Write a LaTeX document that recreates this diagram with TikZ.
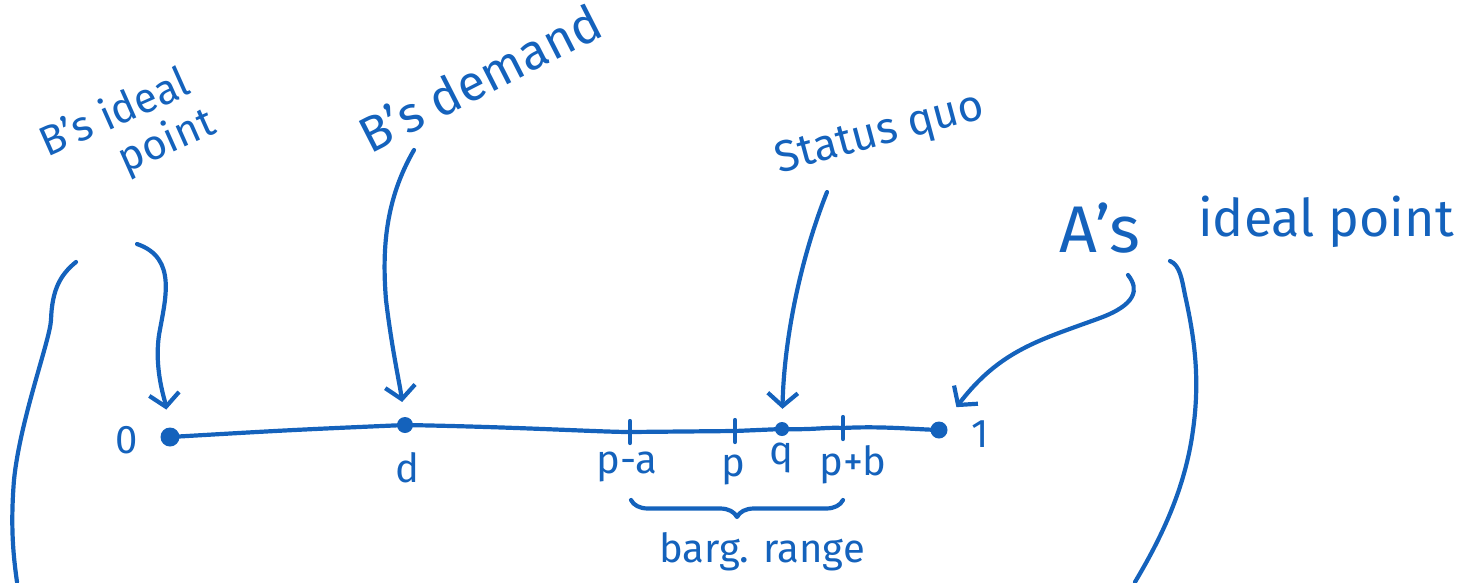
\documentclass[tikz,border=0pt]{standalone}
\usepackage{fontspec}
\setmainfont{Fira Sans}
\usetikzlibrary{arrows.meta,decorations.pathreplacing}
\definecolor{ink}{RGB}{20,98,188}
\begin{document}
\begin{tikzpicture}[x=1pt,y=-1pt,
  pen/.style={draw=ink, line width=4.2pt, line cap=round, line join=round},
  arrowpen/.style={pen, -{Straight Barb[length=13pt,width=30pt]}},
  dot/.style={circle, fill=ink, inner sep=0pt, minimum size=#1},
  lbl/.style={text=ink, inner sep=0pt, font=\fontsize{#1}{#1}\selectfont},
  lbl/.default=40]
\useasboundingbox (0,0) rectangle (1483,582);

% points on the line
\node[dot=19pt] (z) at (170,437) {};
\node[dot=16pt] (d) at (405,425) {};
\node[dot=14pt] (q) at (782,429) {};
\node[dot=17pt] (o) at (939,430) {};
\coordinate (ta) at (630,432);
\coordinate (tp) at (735,431);
\coordinate (tb) at (843,428);

% the line from 0 to 1
\draw[pen] (z.center) .. controls (290,430) .. (d.center)
  .. controls (520,427) and (600,432) .. (ta) -- (tp) -- (q.center)
  .. controls (815,430) and (825,427) .. (tb)
  .. controls (880,426) and (910,429) .. (o.center);

% ticks
\foreach \t in {ta,tp,tb}
  \draw[pen] ([yshift=11pt]\t) -- ([yshift=-11pt]\t);

% labels on the line
\node[lbl] (l0) at (127,440) {0};
\node[lbl] (ld) at (407,468) {d};
\node[lbl] (lpa) at (627,467) {p-a};
\node[lbl] (lp) at (733,470) {p};
\node[lbl] (lq) at (781,458) {q};
\node[lbl] (lpb) at (853,465) {p+b};
\node[lbl] (l1) at (980,434) {1};

% bargaining range
\coordinate (ba) at (631,500);
\coordinate (bb) at (843,500);
\draw[pen, decorate, decoration={brace, mirror, amplitude=17pt}] (ba) -- (bb);
\node[lbl=40] (range) at (762,552) {barg. range};

% headings
\node[lbl=42, rotate=24, align=left, font=\fontsize{42}{46}\selectfont]
  (bi) at (128,134) {B's ideal\\\phantom{B's }point};
\node[lbl=50, rotate=27] (bd) at (480,78) {B's demand};
\node[lbl=44, rotate=15] (sq) at (880,135) {Status quo};
\node[lbl=66] (ai1) at (1100,228) {A's};
\node[lbl=52] (ai2) at (1326,222) {ideal point};

% pointers
\coordinate (sB) at (137,244);
\draw[arrowpen, shorten >=18pt] (sB) .. controls (178,258) and (165,300) .. (159,335)
  .. controls (154,370) and (165,400) .. (z);
\coordinate (sD) at (414,150);
\draw[arrowpen, shorten >=15pt] (sD) .. controls (385,200) and (382,250) .. (386,300)
  .. controls (392,350) and (400,385) .. (d);
\coordinate (sQ) at (827,192);
\draw[arrowpen, shorten >=13pt] (sQ) .. controls (800,260) and (784,340) .. (q);
\coordinate (sA) at (1128,275);
\draw[arrowpen, shorten >=20pt] (sA) .. controls (1140,290) and (1135,305) .. (1100,318)
  .. controls (1040,340) and (1000,350) .. (o);

% enclosing arcs
\coordinate (la) at (76,262);
\coordinate (lb) at (17,582);
\draw[pen] (la) .. controls (60,275) and (52,290) .. (51,320)
  .. controls (50,340) and (20,420) .. (14,480)
  .. controls (10,530) and (14,560) .. (lb);
\coordinate (ra) at (1170,261);
\coordinate (rb) at (1135,582);
\draw[pen] (ra) .. controls (1180,265) and (1182,280) .. (1185,295)
  .. controls (1195,340) and (1200,380) .. (1193,430)
  .. controls (1185,490) and (1160,540) .. (rb);
\end{tikzpicture}
\end{document}
